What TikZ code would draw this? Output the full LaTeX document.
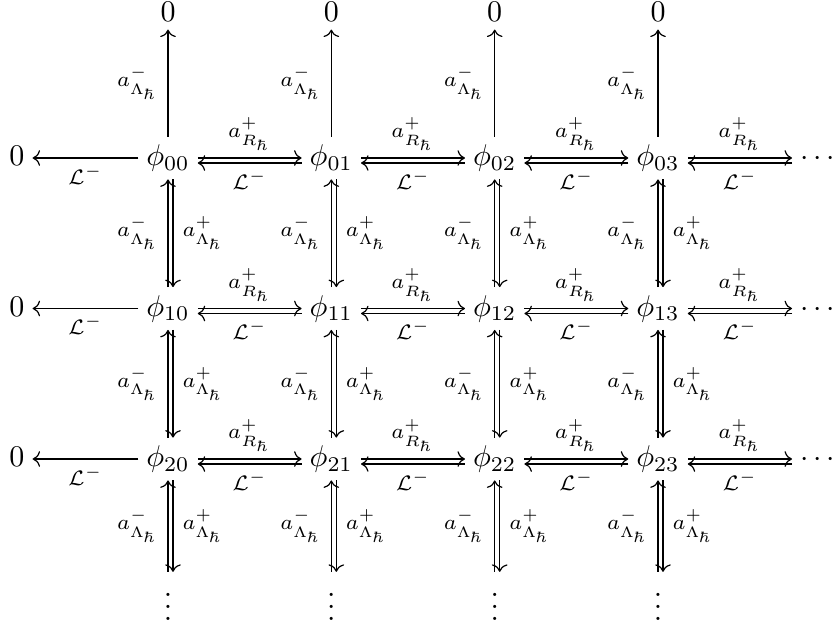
\documentclass[tikz,border=0pt]{standalone}
\usetikzlibrary{arrows.meta}
\begin{document}
\begin{tikzpicture}[x=0.3333pt,y=-0.3333pt,
  >={Computer Modern Rightarrow},
  cell/.style={inner sep=2.5pt, text height=6.94pt, text depth=1.94pt},
  topzero/.style={inner sep=2.5pt},
  dotcell/.style={inner sep=1pt},
  arr/.style={->, line width=0.4pt},
  lab/.style={inner sep=2.2pt},
  vlab/.style={inner sep=3pt}]
\useasboundingbox (0,0) rectangle (835,629);
% nodes
\foreach \j/\x in {0/168,1/331.3,2/494.7,3/658} {
  \node[topzero, anchor=base] (z\j) at (\x,21.5) {$0$};
  \node[dotcell, anchor=base] (v\j) at (\x,620.6) {$\vdots$};
}
\foreach \i/\y in {0/158,1/308.5,2/459} {
  \node[cell] (l\i) at (17,\y) {$0$};
  \foreach \j/\x in {0/168,1/331.3,2/494.7,3/658} {
    \node[cell] (p\i\j) at (\x,\y) {$\phi_{\i\j}$};
  }
  \node[cell, anchor=west] (d\i) at (792,\y) {$\cdots$};
}
% horizontal arrows
\foreach \i in {0,1,2} {
  \draw[arr] (p\i0.west) -- node[lab,below]{$\scriptstyle\mathcal{L}^-$} (l\i.east);
  \foreach \j/\k in {0/1,1/2,2/3} {
    \draw[arr] (p\i\j.east) -- node[lab,above]{$\scriptstyle a^+_{R_\hbar}$} (p\i\k.west);
    \draw[arr] ([yshift=-1.667pt]p\i\k.west) -- node[lab,below]{$\scriptstyle\mathcal{L}^-$} ([yshift=-1.667pt]p\i\j.east);
  }
  \draw[arr] (p\i3.east) -- node[lab,above]{$\scriptstyle a^+_{R_\hbar}$} (d\i.west);
  \draw[arr] ([yshift=-1.667pt]d\i.west) -- node[lab,below]{$\scriptstyle\mathcal{L}^-$} ([yshift=-1.667pt]p\i3.east);
}
% vertical arrows
\foreach \j in {0,1,2,3} {
  \draw[arr] (p0\j.north) -- node[vlab,left]{$\scriptstyle a^-_{\Lambda_\hbar}$} (z\j.south);
  \foreach \i/\k in {0/1,1/2} {
    \draw[arr] (p\k\j.north) -- node[vlab,left]{$\scriptstyle a^-_{\Lambda_\hbar}$} (p\i\j.south);
    \draw[arr] ([xshift=1.667pt]p\i\j.south) -- node[vlab,right]{$\scriptstyle a^+_{\Lambda_\hbar}$} ([xshift=1.667pt]p\k\j.north);
  }
  \draw[arr] (v\j.north) -- node[vlab,left]{$\scriptstyle a^-_{\Lambda_\hbar}$} (p2\j.south);
  \draw[arr] ([xshift=1.667pt]p2\j.south) -- node[vlab,right]{$\scriptstyle a^+_{\Lambda_\hbar}$} ([xshift=1.667pt]v\j.north);
}
\end{tikzpicture}
\end{document}
